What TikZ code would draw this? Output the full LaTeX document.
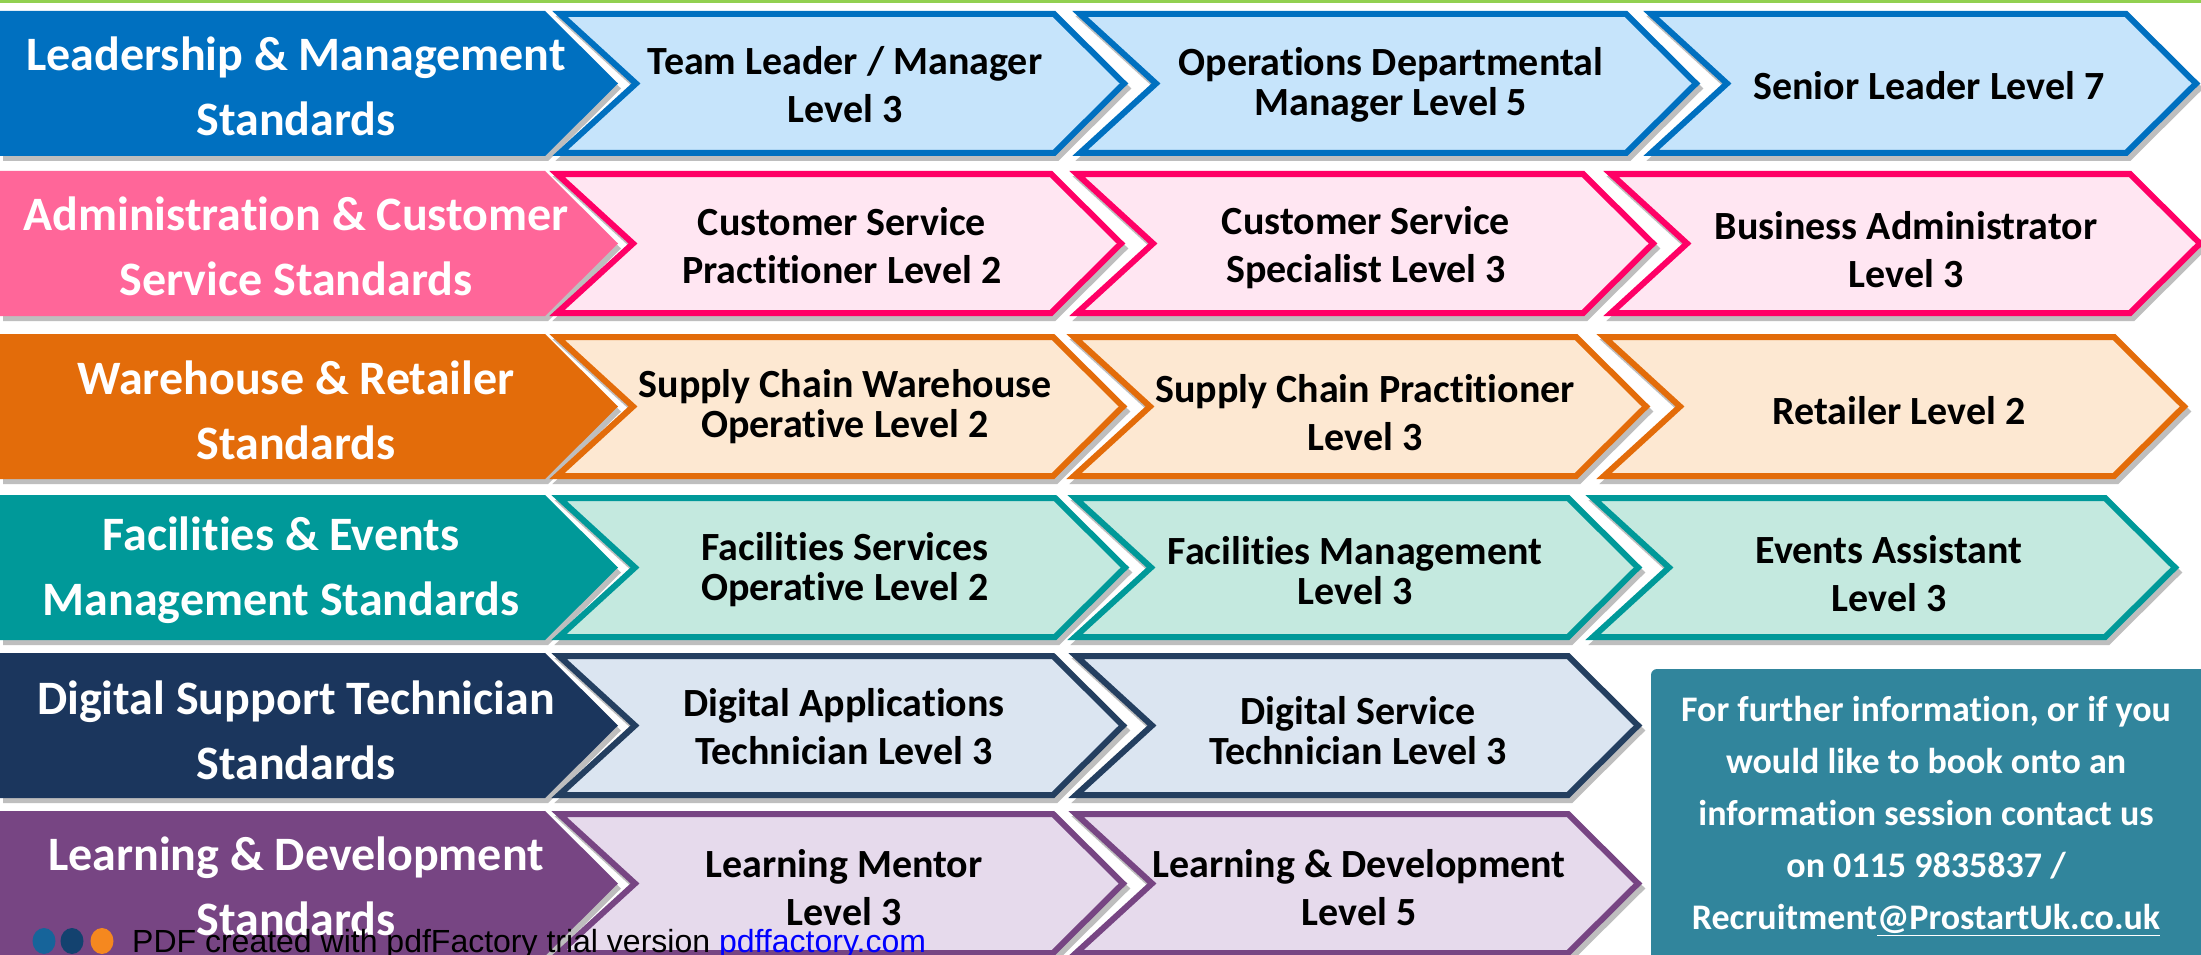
\documentclass[tikz,border=0pt]{standalone}
\usepackage{fontspec}
\setmainfont{Carlito}[Ligatures=NoCommon]
\newfontfamily\footfont{Liberation Sans}
\definecolor{topgreen}{HTML}{92D050}
\definecolor{shadowc}{HTML}{BEBEBE}
\definecolor{blueL}{HTML}{0070C0}
\definecolor{blueM}{HTML}{C6E4FB}
\definecolor{pinkL}{HTML}{FF6699}
\definecolor{pinkM}{HTML}{FFE6F2}
\definecolor{pinkB}{HTML}{FF0066}
\definecolor{orangeL}{HTML}{E36C0A}
\definecolor{orangeM}{HTML}{FDE8D2}
\definecolor{tealL}{HTML}{009999}
\definecolor{tealM}{HTML}{C4E9DF}
\definecolor{navyL}{HTML}{1B365D}
\definecolor{navyM}{HTML}{DBE5F1}
\definecolor{navyB}{HTML}{243F60}
\definecolor{purpL}{HTML}{774583}
\definecolor{purpM}{HTML}{E6DAEC}
\definecolor{infoc}{HTML}{31859C}
\definecolor{dotA}{HTML}{16649A}
\definecolor{dotB}{HTML}{13426F}
\definecolor{dotC}{HTML}{F5881F}
\definecolor{linkc}{HTML}{0000FF}

\newcommand{\leftchev}[3]{%
  \pgfmathsetmacro{\lcm}{(#1+#2)/2}%
  \fill[shadowc,xshift=3pt,yshift=-5pt] (0,#1) -- (545,#1) -- (618,\lcm) -- (545,#2) -- (0,#2) -- cycle;
  \fill[#3] (0,#1) -- (545,#1) -- (618,\lcm) -- (545,#2) -- (0,#2) -- cycle;
}
\newcommand{\outchev}[6]{%
  \pgfmathsetmacro{\ocm}{(#3+#4)/2}%
  \path[chevline,fill=shadowc,draw=shadowc,xshift=3pt,yshift=-5pt] (#1+3,#3+3) -- (#2-3,#3+3) -- (#2+67,\ocm) -- (#2-3,#4-3) -- (#1+3,#4-3) -- (#1+79,\ocm) -- cycle;
  \path[chevline,fill=#5,draw=#6] (#1+3,#3+3) -- (#2-3,#3+3) -- (#2+67,\ocm) -- (#2-3,#4-3) -- (#1+3,#4-3) -- (#1+79,\ocm) -- cycle;
}

\begin{document}
\begin{tikzpicture}[x=1pt,y=-1pt,
  chevline/.style={line width=6pt,line join=miter},
  lefttext/.style={text=white,align=center,inner sep=0pt,font=\bfseries\fontsize{48}{65}\selectfont},
  midtext/.style={text=black,align=center,inner sep=0pt,font=\bfseries\fontsize{40}{48}\selectfont},
  midtight/.style={midtext,font=\bfseries\fontsize{40}{40}\selectfont},
  infotext/.style={text=white,align=center,inner sep=0pt,font=\bfseries\fontsize{36}{52}\selectfont},
  foottext/.style={anchor=base west,inner sep=0pt,font=\footfont\fontsize{32}{32}\selectfont}]
\useasboundingbox (0,0) rectangle (2201,955);
\clip (0,0) rectangle (2201,955);
\fill[white] (0,0) rectangle (2201,955);
\fill[topgreen] (0,0) rectangle (2201,3);

% row 1
\leftchev{11}{156}{blueL}
\outchev{557}{1057}{11}{156}{blueM}{blueL}
\outchev{1077}{1629}{11}{156}{blueM}{blueL}
\outchev{1648}{2129}{11}{156}{blueM}{blueL}
% row 2
\leftchev{171}{316}{pinkL}
\outchev{554}{1054}{171}{316}{pinkM}{pinkB}
\outchev{1074}{1586}{171}{316}{pinkM}{pinkB}
\outchev{1608}{2133}{171}{316}{pinkM}{pinkB}
% row 3
\leftchev{334}{479}{orangeL}
\outchev{554}{1056}{334}{479}{orangeM}{orangeL}
\outchev{1071}{1579}{334}{479}{orangeM}{orangeL}
\outchev{1601}{2117}{334}{479}{orangeM}{orangeL}
% row 4
\leftchev{495}{640}{tealL}
\outchev{556}{1058}{495}{640}{tealM}{tealL}
\outchev{1072}{1571}{495}{640}{tealM}{tealL}
\outchev{1590}{2108}{495}{640}{tealM}{tealL}
% row 5
\leftchev{653}{798}{navyL}
\outchev{556}{1056}{653}{798}{navyM}{navyB}
\outchev{1073}{1571}{653}{798}{navyM}{navyB}
% row 6
\leftchev{811}{956}{purpL}
\outchev{556}{1056}{811}{956}{purpM}{purpL}
\outchev{1073}{1571}{811}{956}{purpM}{purpL}

% info box
\fill[infoc,rounded corners=6pt] (1651,669) rectangle (2220,975);

% left labels
\node[lefttext] (L1) at (296,86) {Leadership \& Management\\Standards};
\node[lefttext] (L2) at (296,246) {Administration \& Customer\\Service Standards};
\node[lefttext] (L3) at (296,410) {Warehouse \& Retailer\\Standards};
\node[lefttext] (L4) at (281,570) {Facilities \& Events\\Management Standards};
\node[lefttext] (L5) at (296,730) {Digital Support Technician\\Standards};
\node[lefttext] (L6) at (296,886) {Learning \& Development\\Standards};

% middle labels
\node[midtext] (A2) at (845,85) {Team Leader / Manager\\Level 3};
\node[midtight] (A3) at (1391,85) {Operations Departmental\\Manager Level 5};
\node[midtext] (A4) at (1929,86) {Senior Leader Level 7};

\node[midtext] (B2) at (842,246) {Customer Service\\Practitioner Level 2};
\node[midtext] (B3) at (1366,248) {Customer Service\\Specialist Level 3};
\node[midtext] (B4) at (1906,250) {Business Administrator\\Level 3};

\node[midtight] (C2) at (845,407) {Supply Chain Warehouse\\Operative Level 2};
\node[midtext] (C3) at (1365,413) {Supply Chain Practitioner\\Level 3};
\node[midtext] (C4) at (1899,411) {Retailer Level 2};

\node[midtight] (D2) at (845,570) {Facilities Services\\Operative Level 2};
\node[midtight] (D3) at (1355,571) {Facilities Management\\Level 3};
\node[midtext] (D4) at (1889,574) {Events Assistant\\Level 3};

\node[midtext] (E2) at (844,727) {Digital Applications\\Technician Level 3};
\node[midtight] (E3) at (1358,731) {Digital Service\\Technician Level 3};

\node[midtext] (F2) at (844,888) {Learning Mentor\\Level 3};
\node[midtext] (F3) at (1359,888) {Learning \& Development\\Level 5};

\node[infotext] (info) at (1926,816) {For further information, or if you\\would like to book onto an\\information session contact us\\on 0115 9835837 /\\Recruitment\underline{@ProstartUk.co.uk}};

% footer
\fill[dotA] (44,941) ellipse [x radius=11.5pt, y radius=13pt];
\fill[dotB] (72,941) ellipse [x radius=11.5pt, y radius=13pt];
\fill[dotC] (102,941) ellipse [x radius=11.5pt, y radius=13pt];
\node[foottext] (foot) at (132,952) {PDF created with pdfFactory trial version \textcolor{linkc}{pdffactory.com}};
\end{tikzpicture}
\end{document}
